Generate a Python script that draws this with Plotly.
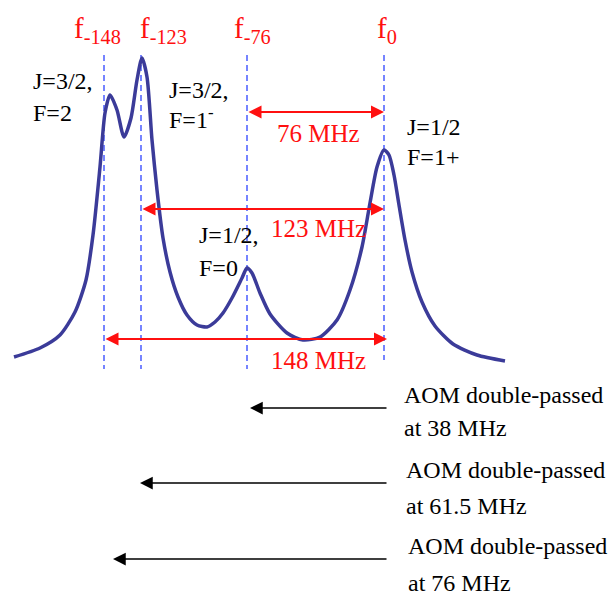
import plotly.graph_objects as go

# Absorption spectrum sampled along the schematic frequency axis
# (horizontal position, vertical level; level axis runs downward)
trace_pos = [14, 40, 60, 75, 86, 93, 100, 105, 110, 117, 124, 131, 137, 142, 147, 152,
             157, 163, 170, 178, 187, 197, 207, 215, 223, 232, 242, 247, 252, 260, 270,
             287, 303, 320, 337, 350, 362, 370, 377, 384, 389, 394, 399, 405, 412, 422,
             435, 453, 477, 505]
trace_level = [357, 348, 335, 312, 280, 235, 167, 113, 95, 110, 137, 118, 80, 58, 77, 140,
               190, 238, 272, 297, 315, 325, 327, 322, 313, 298, 278, 268, 273, 293, 314,
               333, 340, 337, 320, 290, 247, 203, 167, 150, 155, 175, 205, 240, 272, 302,
               326, 344, 355, 361]

# Frequency markers f_n
marker_names = ["-148", "-123", "-76", "0"]
marker_pos = [104, 141, 247, 384]

# Hyperfine level labels
level_j = ["J=3/2,", "J=3/2,", "J=1/2,", "J=1/2"]
level_f = ["F=2", "F=1<sup>-</sup>", "F=0", "F=1+"]

# Splittings relative to f0 (MHz)
splittings_mhz = [76, 123, 148]

# AOM drive frequencies (MHz), double-passed
aom_mhz = ["38", "61.5", "76"]

RED = "#ff1010"
BLUE = "#4a5cff"
NAVY = "#3b3b99"
SERIF = "Liberation Serif"


def serif(size, color):
    return dict(family=SERIF, size=size, color=color)


fig = go.Figure()

# dashed marker lines and their f_n labels
label_left = [72, 138, 232, 375]
for name, xp, lx in zip(marker_names, marker_pos, label_left):
    bottom = 360 if name == "0" else 369
    fig.add_trace(go.Scatter(x=[xp, xp], y=[55, bottom], mode="lines",
                             line=dict(color=BLUE, width=1.5, dash="6px,4px"),
                             hoverinfo="skip", showlegend=False))
    fig.add_annotation(x=lx, y=30, xref="x", yref="y",
                       text=f"f<sub>{name}</sub>", showarrow=False,
                       font=serif(29, RED), xanchor="left", yanchor="middle")

# spectrum
fig.add_trace(go.Scatter(x=trace_pos, y=trace_level, mode="lines",
                         line=dict(color=NAVY, width=3.5, shape="spline", smoothing=0.7),
                         hoverinfo="skip", showlegend=False))

# level labels
label_anchor = [(31, 81, 113), (167, 90, 118), (197, 235, 268), (405, 127, 157)]
for j, f, (lx, y1, y2) in zip(level_j, level_f, label_anchor):
    for txt, yy in ((j, y1), (f, y2)):
        fig.add_annotation(x=lx, y=yy, xref="x", yref="y", text=txt, showarrow=False,
                           font=serif(24, "#000000"), xanchor="left", yanchor="middle")

# splitting arrows (double headed) with labels
f0 = marker_pos[marker_names.index("0")]
split_rows = [(112, 133), (209, 228), (339, 360)]
for mhz, (ya, yt) in zip(splittings_mhz, split_rows):
    left = marker_pos[marker_names.index(f"-{mhz}")]
    right = f0 + (3 if mhz == 148 else 0)
    fig.add_annotation(x=right, y=ya, ax=left, ay=ya, xref="x", yref="y",
                       axref="x", ayref="y", text="", showarrow=True,
                       arrowside="end+start", arrowhead=2, arrowsize=1.3,
                       arrowwidth=2, arrowcolor=RED, standoff=0, startstandoff=0)
    fig.add_annotation(x=318, y=yt, xref="x", yref="y", text=f"{mhz} MHz",
                       showarrow=False, font=serif(25, RED),
                       xanchor="center", yanchor="middle")

# AOM shift arrows with captions
aom_rows = [(408, 250, 402, 395, 428), (483, 140, 404, 470, 506), (559, 113, 406, 546, 583)]
for mhz, (ya, tip, tx, t1, t2) in zip(aom_mhz, aom_rows):
    fig.add_annotation(x=tip, y=ya, ax=388, ay=ya, xref="x", yref="y",
                       axref="x", ayref="y", text="", showarrow=True,
                       arrowhead=2, arrowsize=1.5, arrowwidth=1.7,
                       arrowcolor="black", standoff=0)
    for txt, yy in (("AOM double-passed", t1), (f"at {mhz} MHz", t2)):
        fig.add_annotation(x=tx, y=yy, xref="x", yref="y", text=txt, showarrow=False,
                           font=serif(24, "#000000"), xanchor="left", yanchor="middle")

fig.update_layout(
    width=612, height=599,
    margin=dict(l=0, r=0, t=0, b=0),
    paper_bgcolor="white", plot_bgcolor="white",
    font=dict(family=SERIF, size=24, color="#000000"),
    xaxis=dict(range=[0, 612], visible=False, fixedrange=True),
    yaxis=dict(range=[599, 0], visible=False, fixedrange=True),
    showlegend=False,
)

fig.write_html("out.html")
